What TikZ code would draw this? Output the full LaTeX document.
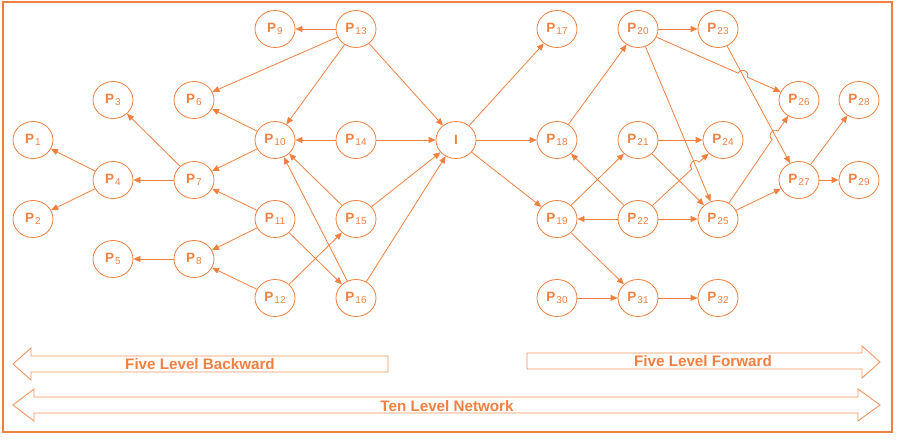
\documentclass[tikz,border=0pt]{standalone}
\usepackage{fontspec}
\setmainfont{Liberation Sans}
\usetikzlibrary{shapes.geometric,arrows.meta,calc,intersections}
\definecolor{orng}{RGB}{240,128,64}
\tikzset{
  el/.style={
    draw=orng,
    ellipse,
    line width=0.8pt,
    minimum width=40pt,
    minimum height=37pt,
    inner sep=0pt,
    text=orng,
    font=\fontsize{13.5}{15}\selectfont\bfseries,
  },
  arr/.style={
    draw=orng,
    line width=0.8pt,
    -{Triangle[length=7pt,width=6pt]},
  },
  hop/.style={
    bend left=90,
    looseness=1.7,
  },
  band/.style={
    draw=orng!85,
    line width=0.9pt,
  },
  bandtext/.style={
    text=orng,
    font=\fontsize{15.2}{17}\selectfont\bfseries,
  },
}
\newcommand{\pp}[1]{P\kern1pt\raisebox{-2.5pt}{\fontsize{10}{12}\selectfont\mdseries #1}}

\begin{document}
\begin{tikzpicture}[x=1pt,y=-1pt]
  \useasboundingbox (0,0) rectangle (898,440);
  \draw[orng,line width=1.2pt] (3,2) rectangle (892,432);

  % backward half
  \node[el] (p1) at (33,140) {\pp{1}};
  \node[el] (p2) at (33,219) {\pp{2}};
  \node[el] (p3) at (113,100) {\pp{3}};
  \node[el] (p4) at (113,180) {\pp{4}};
  \node[el] (p5) at (113,259) {\pp{5}};
  \node[el] (p6) at (194,100) {\pp{6}};
  \node[el] (p7) at (194,180) {\pp{7}};
  \node[el] (p8) at (194,259) {\pp{8}};
  \node[el] (p9) at (275,29) {\pp{9}};
  \node[el] (p10) at (275,140) {\pp{10}};
  \node[el] (p11) at (275,219) {\pp{11}};
  \node[el] (p12) at (275,298) {\pp{12}};
  \node[el] (p13) at (356,29) {\pp{13}};
  \node[el] (p14) at (356,140) {\pp{14}};
  \node[el] (p15) at (356,219) {\pp{15}};
  \node[el] (p16) at (356,298) {\pp{16}};
  \node[el] (i) at (456,140) {I};

  % forward half
  \node[el] (p17) at (557,29) {\pp{17}};
  \node[el] (p18) at (557,140) {\pp{18}};
  \node[el] (p19) at (557,219) {\pp{19}};
  \node[el] (p20) at (638,29) {\pp{20}};
  \node[el] (p21) at (638,140) {\pp{21}};
  \node[el] (p22) at (638,219) {\pp{22}};
  \node[el] (p23) at (718,29) {\pp{23}};
  \node[el] (p24) at (723,140) {\pp{24}};
  \node[el] (p25) at (718,219) {\pp{25}};
  \node[el] (p26) at (799,100) {\pp{26}};
  \node[el] (p27) at (799,180) {\pp{27}};
  \node[el] (p28) at (859,100) {\pp{28}};
  \node[el] (p29) at (859,180) {\pp{29}};
  \node[el] (p30) at (557,298) {\pp{30}};
  \node[el] (p31) at (638,298) {\pp{31}};
  \node[el] (p32) at (718,298) {\pp{32}};

  \draw[arr] (p4) -- (p1);
  \draw[arr] (p4) -- (p2);
  \draw[arr] (p7) -- (p3);
  \draw[arr] (p7) -- (p4);
  \draw[arr] (p8) -- (p5);
  \draw[arr] (p10) -- (p6);
  \draw[arr] (p10) -- (p7);
  \draw[arr] (p11) -- (p7);
  \draw[arr] (p11) -- (p8);
  \draw[arr] (p11) -- (p16);
  \draw[arr] (p12) -- (p8);
  \draw[arr] (p12) -- (p15);
  \draw[arr] (p13) -- (p9);
  \draw[arr] (p13) -- (p6);
  \draw[arr] (p13) -- (p10);
  \draw[arr] (p13) -- (i);
  \draw[arr] (p14) -- (p10);
  \draw[arr] (p14) -- (i);
  \draw[arr] (p15) -- (p10);
  \draw[arr] (p15) -- (i);
  \draw[arr] (p16) -- (p10);
  \draw[arr] (p16) -- (i);

  \draw[arr] (i) -- (p17);
  \draw[arr] (i) -- (p18);
  \draw[arr] (i) -- (p19);
  \draw[arr] (p18) -- (p20);
  \draw[arr] (p19) -- (p21);
  \draw[arr] (p19) -- (p31);
  \draw[arr] (p22) -- (p18);
  \draw[arr] (p22) -- (p19);
  \draw[arr] (p22) -- (p25);
  \draw[arr] (p21) -- (p24);
  \draw[arr] (p21) -- (p25);
  \draw[arr] (p20) -- (p23);
  \draw[arr, name path=l2025] (p20) -- (p25);
  \draw[arr, name path=l2327] (p23) -- (p27);
  \draw[arr] (p25) -- (p27);
  \draw[arr] (p27) -- (p28);
  \draw[arr] (p27) -- (p29);
  \draw[arr] (p30) -- (p31);
  \draw[arr] (p31) -- (p32);

  % crossings with a hop
  \path[name path=l2026] (p20) -- (p26);
  \path[name path=l2526] (p25) -- (p26);
  \path[name path=l2224] (p22) -- (p24);
  \path[name intersections={of=l2026 and l2327, by=h1}];
  \path[name intersections={of=l2526 and l2327, by=h2}];
  \path[name intersections={of=l2224 and l2025, by=h3}];
  \draw[arr] (p20) -- ($(h1)!5pt!(p20)$) to[hop] ($(h1)!5pt!(p26)$) -- (p26);
  \draw[arr] (p25) -- ($(h2)!5pt!(p25)$) to[hop] ($(h2)!5pt!(p26)$) -- (p26);
  \draw[arr] (p22) -- ($(h3)!5pt!(p22)$) to[hop] ($(h3)!5pt!(p24)$) -- (p24);

  % level bands
  \draw[band] (13,364) -- (31,348) -- (31,356) -- (388,356) -- (388,372)
    -- (31,372) -- (31,380) -- cycle;
  \draw[band] (527,353) -- (862,353) -- (862,346) -- (880,362) -- (862,378)
    -- (862,369) -- (527,369) -- cycle;
  \draw[band] (13,405) -- (34,389) -- (34,397) -- (858,397) -- (858,389)
    -- (880,405) -- (858,421) -- (858,413) -- (34,413) -- (34,421) -- cycle;
  \node[bandtext] (back) at (200,364) {Five Level Backward};
  \node[bandtext] (fwd) at (703,361) {Five Level Forward};
  \node[bandtext] (ten) at (447,406) {Ten Level Network};
\end{tikzpicture}
\end{document}
